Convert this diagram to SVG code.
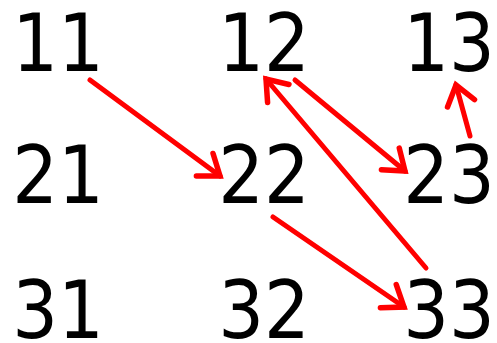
<svg xmlns="http://www.w3.org/2000/svg" width="497" height="343" viewBox="0 0 497 343">
<style>
.n text{font-family:"DejaVu Sans Condensed","DejaVu Sans","Liberation Sans",sans-serif;font-stretch:condensed;font-size:80px;fill:#000;text-anchor:middle}
.c line{stroke:#f00;stroke-width:5;stroke-linecap:round;fill:none}
</style>
<defs>
<marker id="ah" markerUnits="userSpaceOnUse" markerWidth="40" markerHeight="40" refX="30" refY="20" orient="auto" viewBox="0 0 40 40">
<path d="M11,6 L30,20 L11,34" fill="none" stroke="#f00" stroke-width="5.5" stroke-linecap="round" stroke-linejoin="miter"/>
</marker>
</defs>
<rect width="497" height="343" fill="#fff"/>
<g class="n" id="n11"><text x="58" y="71">11</text></g>
<g class="n" id="n12"><text x="264" y="71">12</text></g>
<g class="n" id="n13"><text x="449" y="71">13</text></g>
<g class="n" id="n21"><text x="58" y="203">21</text></g>
<g class="n" id="n22"><text x="264" y="203">22</text></g>
<g class="n" id="n23"><text x="449" y="203">23</text></g>
<g class="n" id="n31"><text x="58" y="338">31</text></g>
<g class="n" id="n32"><text x="264" y="338">32</text></g>
<g class="n" id="n33"><text x="449" y="338">33</text></g>
<g class="c" id="connectors">
<line x1="90" y1="80" x2="220" y2="176" marker-end="url(#ah)"/>
<line x1="295" y1="80" x2="405" y2="171" marker-end="url(#ah)"/>
<line x1="426" y1="268" x2="266" y2="79" marker-end="url(#ah)"/>
<line x1="470" y1="136" x2="456" y2="85" marker-end="url(#ah)"/>
<line x1="273" y1="217" x2="404" y2="307" marker-end="url(#ah)"/>
</g>
</svg>
